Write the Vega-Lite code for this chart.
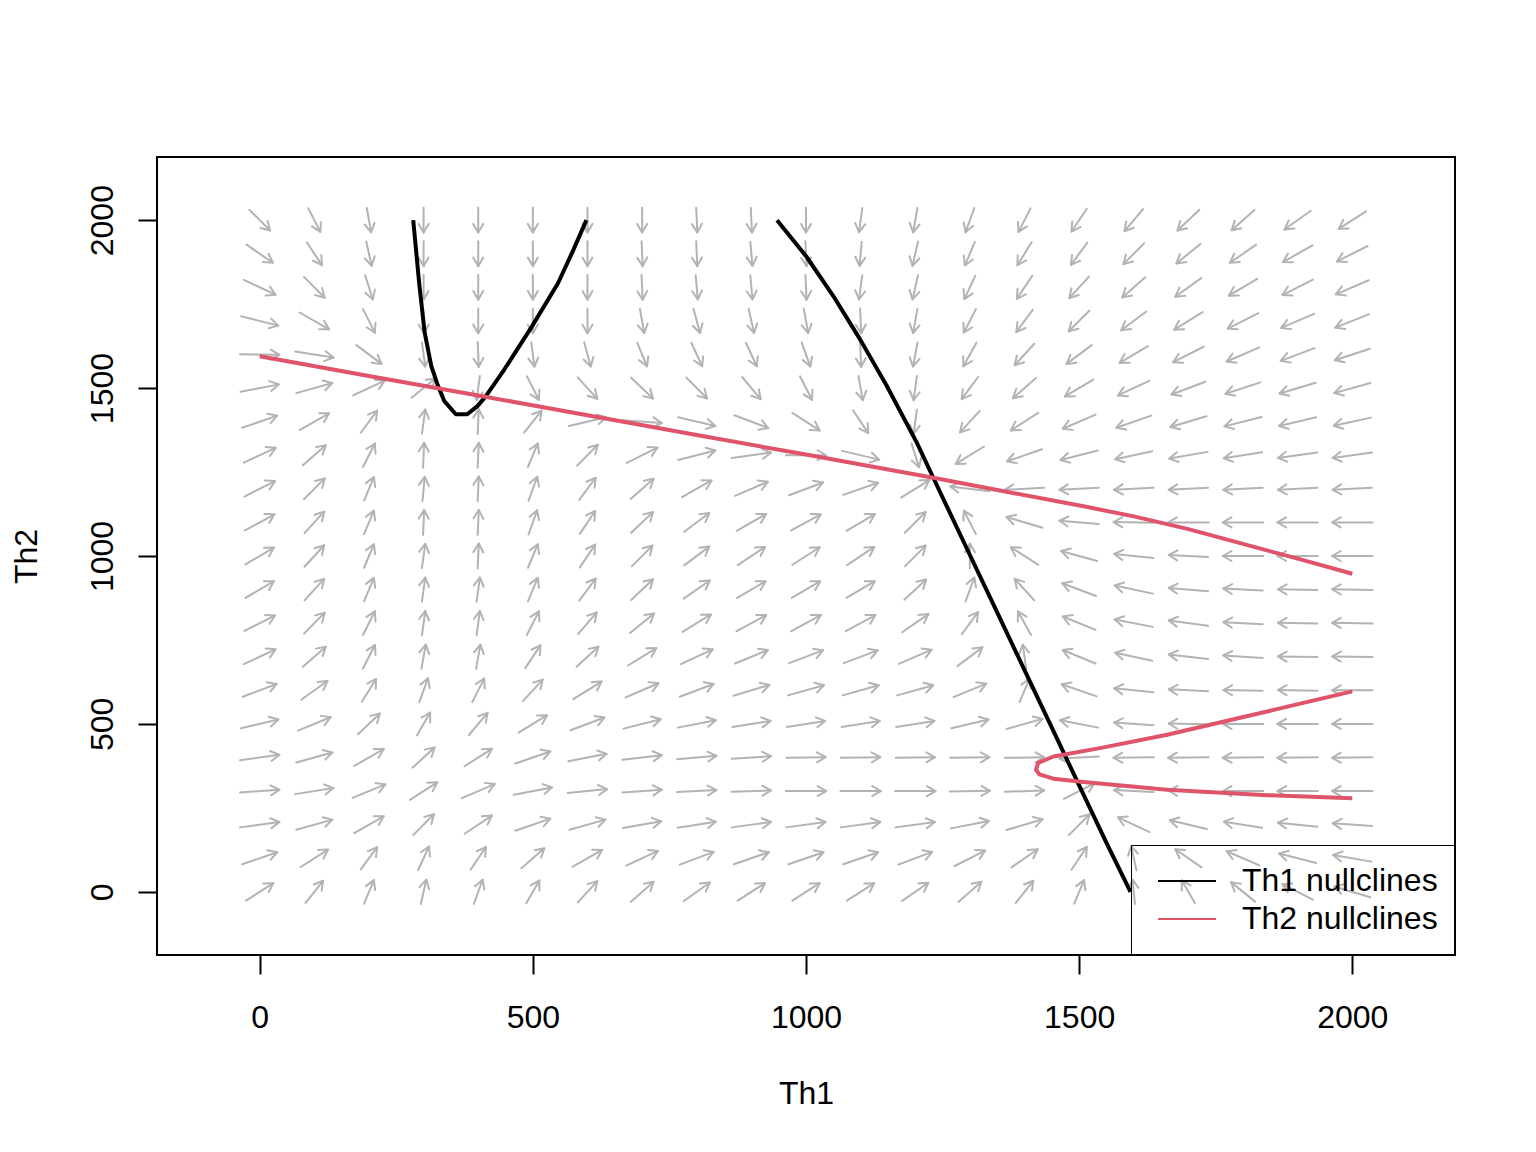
{
"$schema": "https://vega.github.io/schema/vega-lite/v6.json",
"width": 1298,
"height": 798,
"autosize": {"type": "none"},
"padding": {"left": 157, "top": 157, "right": 81, "bottom": 197},
"background": "white",
"config": {"font": "Liberation Sans", "view": {"stroke": "black", "strokeWidth": 2}},
"datasets": {
"field": [
{"x0":-19,"y0":2031,"x1":19,"y1":1969},{"x0":89,"y0":2035,"x1":111,"y1":1965},{"x0":196,"y0":2036,"x1":204,"y1":1964},{"x0":300,"y0":2037,"x1":300,"y1":1963},{"x0":400,"y0":2037,"x1":400,"y1":1963},{"x0":500,"y0":2037,"x1":500,"y1":1963},{"x0":600,"y0":2037,"x1":600,"y1":1963},{"x0":700,"y0":2037,"x1":700,"y1":1963},{"x0":799,"y0":2037,"x1":801,"y1":1963},{"x0":899,"y0":2037,"x1":901,"y1":1963},{"x0":1000,"y0":2037,"x1":1000,"y1":1963},{"x0":1103,"y0":2036,"x1":1097,"y1":1964},{"x0":1204,"y0":2036,"x1":1196,"y1":1964},{"x0":1308,"y0":2036,"x1":1292,"y1":1964},{"x0":1411,"y0":2035,"x1":1389,"y1":1965},{"x0":1514,"y0":2034,"x1":1486,"y1":1966},{"x0":1617,"y0":2033,"x1":1583,"y1":1967},{"x0":1720,"y0":2031,"x1":1680,"y1":1969},{"x0":1821,"y0":2030,"x1":1779,"y1":1970},{"x0":1924,"y0":2028,"x1":1876,"y1":1972},{"x0":2025,"y0":2026,"x1":1975,"y1":1974},
{"x0":-24,"y0":1927,"x1":24,"y1":1873},{"x0":86,"y0":1934,"x1":114,"y1":1866},{"x0":195,"y0":1936,"x1":205,"y1":1864},{"x0":300,"y0":1937,"x1":300,"y1":1863},{"x0":400,"y0":1937,"x1":400,"y1":1863},{"x0":500,"y0":1937,"x1":500,"y1":1863},{"x0":600,"y0":1937,"x1":600,"y1":1863},{"x0":699,"y0":1937,"x1":701,"y1":1863},{"x0":799,"y0":1937,"x1":801,"y1":1863},{"x0":898,"y0":1936,"x1":902,"y1":1864},{"x0":999,"y0":1937,"x1":1001,"y1":1863},{"x0":1102,"y0":1936,"x1":1098,"y1":1864},{"x0":1205,"y0":1936,"x1":1195,"y1":1864},{"x0":1309,"y0":1935,"x1":1291,"y1":1865},{"x0":1413,"y0":1934,"x1":1387,"y1":1866},{"x0":1515,"y0":1933,"x1":1485,"y1":1867},{"x0":1619,"y0":1931,"x1":1581,"y1":1869},{"x0":1722,"y0":1929,"x1":1678,"y1":1871},{"x0":1824,"y0":1927,"x1":1776,"y1":1873},{"x0":1927,"y0":1925,"x1":1873,"y1":1875},{"x0":2028,"y0":1923,"x1":1972,"y1":1877},
{"x0":-29,"y0":1822,"x1":29,"y1":1778},{"x0":81,"y0":1831,"x1":119,"y1":1769},{"x0":193,"y0":1836,"x1":207,"y1":1764},{"x0":300,"y0":1837,"x1":300,"y1":1763},{"x0":400,"y0":1837,"x1":400,"y1":1763},{"x0":500,"y0":1837,"x1":500,"y1":1763},{"x0":600,"y0":1837,"x1":600,"y1":1763},{"x0":699,"y0":1837,"x1":701,"y1":1763},{"x0":798,"y0":1836,"x1":802,"y1":1764},{"x0":898,"y0":1836,"x1":902,"y1":1764},{"x0":999,"y0":1837,"x1":1001,"y1":1763},{"x0":1103,"y0":1836,"x1":1097,"y1":1764},{"x0":1205,"y0":1836,"x1":1195,"y1":1764},{"x0":1310,"y0":1835,"x1":1290,"y1":1765},{"x0":1414,"y0":1834,"x1":1386,"y1":1766},{"x0":1518,"y0":1832,"x1":1482,"y1":1768},{"x0":1621,"y0":1830,"x1":1579,"y1":1770},{"x0":1724,"y0":1828,"x1":1676,"y1":1772},{"x0":1826,"y0":1825,"x1":1774,"y1":1775},{"x0":1928,"y0":1823,"x1":1872,"y1":1777},{"x0":2030,"y0":1821,"x1":1970,"y1":1779},
{"x0":-34,"y0":1714,"x1":34,"y1":1686},{"x0":73,"y0":1725,"x1":127,"y1":1675},{"x0":189,"y0":1735,"x1":211,"y1":1665},{"x0":299,"y0":1737,"x1":301,"y1":1663},{"x0":400,"y0":1737,"x1":400,"y1":1663},{"x0":500,"y0":1737,"x1":500,"y1":1663},{"x0":600,"y0":1737,"x1":600,"y1":1663},{"x0":696,"y0":1736,"x1":704,"y1":1664},{"x0":794,"y0":1736,"x1":806,"y1":1664},{"x0":895,"y0":1736,"x1":905,"y1":1664},{"x0":996,"y0":1736,"x1":1004,"y1":1664},{"x0":1099,"y0":1737,"x1":1101,"y1":1663},{"x0":1204,"y0":1736,"x1":1196,"y1":1664},{"x0":1311,"y0":1735,"x1":1289,"y1":1665},{"x0":1415,"y0":1733,"x1":1385,"y1":1667},{"x0":1519,"y0":1731,"x1":1481,"y1":1669},{"x0":1623,"y0":1728,"x1":1577,"y1":1672},{"x0":1726,"y0":1726,"x1":1674,"y1":1674},{"x0":1828,"y0":1723,"x1":1772,"y1":1677},{"x0":1930,"y0":1721,"x1":1870,"y1":1679},{"x0":2031,"y0":1720,"x1":1969,"y1":1680},
{"x0":-36,"y0":1601,"x1":36,"y1":1599},{"x0":65,"y0":1609,"x1":135,"y1":1591},{"x0":177,"y0":1628,"x1":223,"y1":1572},{"x0":297,"y0":1636,"x1":303,"y1":1564},{"x0":399,"y0":1637,"x1":401,"y1":1563},{"x0":497,"y0":1636,"x1":503,"y1":1564},{"x0":594,"y0":1636,"x1":606,"y1":1564},{"x0":691,"y0":1635,"x1":709,"y1":1565},{"x0":790,"y0":1635,"x1":810,"y1":1565},{"x0":890,"y0":1635,"x1":910,"y1":1565},{"x0":992,"y0":1636,"x1":1008,"y1":1564},{"x0":1099,"y0":1637,"x1":1101,"y1":1563},{"x0":1204,"y0":1636,"x1":1196,"y1":1564},{"x0":1312,"y0":1635,"x1":1288,"y1":1565},{"x0":1418,"y0":1632,"x1":1382,"y1":1568},{"x0":1523,"y0":1628,"x1":1477,"y1":1572},{"x0":1626,"y0":1625,"x1":1574,"y1":1575},{"x0":1728,"y0":1623,"x1":1672,"y1":1577},{"x0":1830,"y0":1621,"x1":1770,"y1":1579},{"x0":1931,"y0":1619,"x1":1869,"y1":1581},{"x0":2032,"y0":1617,"x1":1968,"y1":1583},
{"x0":-35,"y0":1489,"x1":35,"y1":1511},{"x0":67,"y0":1485,"x1":133,"y1":1515},{"x0":171,"y0":1478,"x1":229,"y1":1522},{"x0":278,"y0":1471,"x1":322,"y1":1529},{"x0":403,"y0":1536,"x1":397,"y1":1464},{"x0":489,"y0":1535,"x1":511,"y1":1465},{"x0":582,"y0":1532,"x1":618,"y1":1468},{"x0":680,"y0":1531,"x1":720,"y1":1469},{"x0":781,"y0":1531,"x1":819,"y1":1469},{"x0":883,"y0":1533,"x1":917,"y1":1467},{"x0":989,"y0":1535,"x1":1011,"y1":1465},{"x0":1096,"y0":1536,"x1":1104,"y1":1464},{"x0":1203,"y0":1536,"x1":1197,"y1":1464},{"x0":1315,"y0":1533,"x1":1285,"y1":1467},{"x0":1421,"y0":1530,"x1":1379,"y1":1470},{"x0":1526,"y0":1525,"x1":1474,"y1":1475},{"x0":1629,"y0":1522,"x1":1571,"y1":1478},{"x0":1731,"y0":1519,"x1":1669,"y1":1481},{"x0":1832,"y0":1517,"x1":1768,"y1":1483},{"x0":1933,"y0":1516,"x1":1867,"y1":1484},{"x0":2033,"y0":1515,"x1":1967,"y1":1485},
{"x0":-32,"y0":1382,"x1":32,"y1":1418},{"x0":73,"y0":1375,"x1":127,"y1":1425},{"x0":185,"y0":1367,"x1":215,"y1":1433},{"x0":297,"y0":1364,"x1":303,"y1":1436},{"x0":399,"y0":1363,"x1":401,"y1":1437},{"x0":484,"y0":1367,"x1":516,"y1":1433},{"x0":566,"y0":1387,"x1":634,"y1":1413},{"x0":664,"y0":1404,"x1":736,"y1":1396},{"x0":766,"y0":1413,"x1":834,"y1":1387},{"x0":869,"y0":1419,"x1":931,"y1":1381},{"x0":975,"y0":1426,"x1":1025,"y1":1374},{"x0":1086,"y0":1434,"x1":1114,"y1":1366},{"x0":1203,"y0":1436,"x1":1197,"y1":1364},{"x0":1318,"y0":1432,"x1":1282,"y1":1368},{"x0":1425,"y0":1426,"x1":1375,"y1":1374},{"x0":1530,"y0":1421,"x1":1470,"y1":1379},{"x0":1632,"y0":1418,"x1":1568,"y1":1382},{"x0":1733,"y0":1416,"x1":1667,"y1":1384},{"x0":1834,"y0":1414,"x1":1766,"y1":1386},{"x0":1934,"y0":1413,"x1":1866,"y1":1387},{"x0":2034,"y0":1412,"x1":1966,"y1":1388},
{"x0":-29,"y0":1278,"x1":29,"y1":1322},{"x0":79,"y0":1270,"x1":121,"y1":1330},{"x0":189,"y0":1265,"x1":211,"y1":1335},{"x0":299,"y0":1263,"x1":301,"y1":1337},{"x0":399,"y0":1263,"x1":401,"y1":1337},{"x0":491,"y0":1265,"x1":509,"y1":1335},{"x0":581,"y0":1269,"x1":619,"y1":1331},{"x0":672,"y0":1277,"x1":728,"y1":1323},{"x0":766,"y0":1286,"x1":834,"y1":1314},{"x0":864,"y0":1292,"x1":936,"y1":1308},{"x0":963,"y0":1300,"x1":1037,"y1":1300},{"x0":1066,"y0":1313,"x1":1134,"y1":1287},{"x0":1193,"y0":1336,"x1":1207,"y1":1264},{"x0":1326,"y0":1326,"x1":1274,"y1":1274},{"x0":1432,"y0":1318,"x1":1368,"y1":1282},{"x0":1534,"y0":1314,"x1":1466,"y1":1286},{"x0":1634,"y0":1312,"x1":1566,"y1":1288},{"x0":1735,"y0":1310,"x1":1665,"y1":1290},{"x0":1835,"y0":1309,"x1":1765,"y1":1291},{"x0":1936,"y0":1308,"x1":1864,"y1":1292},{"x0":2036,"y0":1308,"x1":1964,"y1":1292},
{"x0":-28,"y0":1177,"x1":28,"y1":1223},{"x0":81,"y0":1169,"x1":119,"y1":1231},{"x0":191,"y0":1165,"x1":209,"y1":1235},{"x0":298,"y0":1164,"x1":302,"y1":1236},{"x0":399,"y0":1163,"x1":401,"y1":1237},{"x0":492,"y0":1164,"x1":508,"y1":1236},{"x0":585,"y0":1167,"x1":615,"y1":1233},{"x0":679,"y0":1170,"x1":721,"y1":1230},{"x0":773,"y0":1175,"x1":827,"y1":1225},{"x0":870,"y0":1179,"x1":930,"y1":1221},{"x0":969,"y0":1181,"x1":1031,"y1":1219},{"x0":1068,"y0":1182,"x1":1132,"y1":1218},{"x0":1174,"y0":1174,"x1":1226,"y1":1226},{"x0":1336,"y0":1193,"x1":1264,"y1":1207},{"x0":1436,"y0":1203,"x1":1364,"y1":1197},{"x0":1536,"y0":1203,"x1":1464,"y1":1197},{"x0":1636,"y0":1203,"x1":1564,"y1":1197},{"x0":1736,"y0":1203,"x1":1664,"y1":1197},{"x0":1836,"y0":1203,"x1":1764,"y1":1197},{"x0":1936,"y0":1203,"x1":1864,"y1":1197},{"x0":2036,"y0":1203,"x1":1964,"y1":1197},
{"x0":-27,"y0":1076,"x1":27,"y1":1124},{"x0":82,"y0":1068,"x1":118,"y1":1132},{"x0":191,"y0":1065,"x1":209,"y1":1135},{"x0":299,"y0":1063,"x1":301,"y1":1137},{"x0":399,"y0":1063,"x1":401,"y1":1137},{"x0":492,"y0":1064,"x1":508,"y1":1136},{"x0":586,"y0":1066,"x1":614,"y1":1134},{"x0":680,"y0":1069,"x1":720,"y1":1131},{"x0":777,"y0":1072,"x1":823,"y1":1128},{"x0":873,"y0":1075,"x1":927,"y1":1125},{"x0":973,"y0":1076,"x1":1027,"y1":1124},{"x0":1074,"y0":1075,"x1":1126,"y1":1125},{"x0":1181,"y0":1069,"x1":1219,"y1":1131},{"x0":1311,"y0":1065,"x1":1289,"y1":1135},{"x0":1433,"y0":1084,"x1":1367,"y1":1116},{"x0":1536,"y0":1095,"x1":1464,"y1":1105},{"x0":1637,"y0":1099,"x1":1563,"y1":1101},{"x0":1737,"y0":1100,"x1":1663,"y1":1100},{"x0":1837,"y0":1100,"x1":1763,"y1":1100},{"x0":1937,"y0":1100,"x1":1863,"y1":1100},{"x0":2037,"y0":1100,"x1":1963,"y1":1100},
{"x0":-26,"y0":975,"x1":26,"y1":1025},{"x0":82,"y0":968,"x1":118,"y1":1032},{"x0":191,"y0":965,"x1":209,"y1":1035},{"x0":297,"y0":964,"x1":303,"y1":1036},{"x0":399,"y0":963,"x1":401,"y1":1037},{"x0":491,"y0":965,"x1":509,"y1":1035},{"x0":586,"y0":966,"x1":614,"y1":1034},{"x0":681,"y0":969,"x1":719,"y1":1031},{"x0":777,"y0":972,"x1":823,"y1":1028},{"x0":875,"y0":973,"x1":925,"y1":1027},{"x0":975,"y0":974,"x1":1025,"y1":1026},{"x0":1075,"y0":973,"x1":1125,"y1":1027},{"x0":1181,"y0":969,"x1":1219,"y1":1031},{"x0":1300,"y0":963,"x1":1300,"y1":1037},{"x0":1425,"y0":974,"x1":1375,"y1":1026},{"x0":1533,"y0":985,"x1":1467,"y1":1015},{"x0":1636,"y0":994,"x1":1564,"y1":1006},{"x0":1736,"y0":997,"x1":1664,"y1":1003},{"x0":1837,"y0":1000,"x1":1763,"y1":1000},{"x0":1937,"y0":1000,"x1":1863,"y1":1000},{"x0":2037,"y0":1000,"x1":1963,"y1":1000},
{"x0":-26,"y0":875,"x1":26,"y1":925},{"x0":82,"y0":868,"x1":118,"y1":932},{"x0":191,"y0":865,"x1":209,"y1":935},{"x0":297,"y0":864,"x1":303,"y1":936},{"x0":397,"y0":864,"x1":403,"y1":936},{"x0":491,"y0":865,"x1":509,"y1":935},{"x0":585,"y0":867,"x1":615,"y1":933},{"x0":680,"y0":869,"x1":720,"y1":931},{"x0":776,"y0":873,"x1":824,"y1":927},{"x0":874,"y0":875,"x1":926,"y1":925},{"x0":974,"y0":875,"x1":1026,"y1":925},{"x0":1074,"y0":875,"x1":1126,"y1":925},{"x0":1180,"y0":870,"x1":1220,"y1":930},{"x0":1292,"y0":864,"x1":1308,"y1":936},{"x0":1418,"y0":868,"x1":1382,"y1":932},{"x0":1531,"y0":881,"x1":1469,"y1":919},{"x0":1635,"y0":888,"x1":1565,"y1":912},{"x0":1736,"y0":895,"x1":1664,"y1":905},{"x0":1836,"y0":897,"x1":1764,"y1":903},{"x0":1936,"y0":899,"x1":1864,"y1":901},{"x0":2037,"y0":899,"x1":1963,"y1":901},
{"x0":-28,"y0":777,"x1":28,"y1":823},{"x0":81,"y0":769,"x1":119,"y1":831},{"x0":189,"y0":765,"x1":211,"y1":835},{"x0":297,"y0":764,"x1":303,"y1":836},{"x0":397,"y0":764,"x1":403,"y1":836},{"x0":489,"y0":765,"x1":511,"y1":835},{"x0":583,"y0":768,"x1":617,"y1":832},{"x0":678,"y0":771,"x1":722,"y1":829},{"x0":774,"y0":774,"x1":826,"y1":826},{"x0":873,"y0":776,"x1":927,"y1":824},{"x0":973,"y0":776,"x1":1027,"y1":824},{"x0":1073,"y0":776,"x1":1127,"y1":824},{"x0":1176,"y0":773,"x1":1224,"y1":827},{"x0":1285,"y0":767,"x1":1315,"y1":833},{"x0":1412,"y0":765,"x1":1388,"y1":835},{"x0":1530,"y0":780,"x1":1470,"y1":820},{"x0":1635,"y0":789,"x1":1565,"y1":811},{"x0":1736,"y0":792,"x1":1664,"y1":808},{"x0":1836,"y0":797,"x1":1764,"y1":803},{"x0":1936,"y0":799,"x1":1864,"y1":801},{"x0":2037,"y0":799,"x1":1963,"y1":801},
{"x0":-29,"y0":678,"x1":29,"y1":722},{"x0":79,"y0":670,"x1":121,"y1":730},{"x0":189,"y0":665,"x1":211,"y1":735},{"x0":296,"y0":664,"x1":304,"y1":736},{"x0":396,"y0":664,"x1":404,"y1":736},{"x0":486,"y0":666,"x1":514,"y1":734},{"x0":580,"y0":670,"x1":620,"y1":730},{"x0":674,"y0":674,"x1":726,"y1":726},{"x0":771,"y0":678,"x1":829,"y1":722},{"x0":870,"y0":680,"x1":930,"y1":720},{"x0":969,"y0":681,"x1":1031,"y1":719},{"x0":1069,"y0":681,"x1":1131,"y1":719},{"x0":1170,"y0":679,"x1":1230,"y1":721},{"x0":1277,"y0":672,"x1":1323,"y1":728},{"x0":1403,"y0":664,"x1":1397,"y1":736},{"x0":1530,"y0":680,"x1":1470,"y1":720},{"x0":1634,"y0":688,"x1":1566,"y1":712},{"x0":1736,"y0":693,"x1":1664,"y1":707},{"x0":1836,"y0":696,"x1":1764,"y1":704},{"x0":1936,"y0":699,"x1":1864,"y1":701},{"x0":2037,"y0":699,"x1":1963,"y1":701},
{"x0":-31,"y0":581,"x1":31,"y1":619},{"x0":76,"y0":572,"x1":124,"y1":628},{"x0":187,"y0":566,"x1":213,"y1":634},{"x0":292,"y0":564,"x1":308,"y1":636},{"x0":389,"y0":565,"x1":411,"y1":635},{"x0":482,"y0":568,"x1":518,"y1":632},{"x0":574,"y0":574,"x1":626,"y1":626},{"x0":670,"y0":579,"x1":730,"y1":621},{"x0":769,"y0":581,"x1":831,"y1":619},{"x0":867,"y0":584,"x1":933,"y1":616},{"x0":967,"y0":585,"x1":1033,"y1":615},{"x0":1067,"y0":585,"x1":1133,"y1":615},{"x0":1167,"y0":585,"x1":1233,"y1":615},{"x0":1270,"y0":580,"x1":1330,"y1":620},{"x0":1391,"y0":565,"x1":1409,"y1":635},{"x0":1532,"y0":582,"x1":1468,"y1":618},{"x0":1636,"y0":594,"x1":1564,"y1":606},{"x0":1736,"y0":597,"x1":1664,"y1":603},{"x0":1836,"y0":599,"x1":1764,"y1":601},{"x0":1936,"y0":599,"x1":1864,"y1":601},{"x0":2037,"y0":600,"x1":1963,"y1":600},
{"x0":-34,"y0":487,"x1":34,"y1":513},{"x0":70,"y0":480,"x1":130,"y1":520},{"x0":180,"y0":469,"x1":220,"y1":531},{"x0":288,"y0":466,"x1":312,"y1":534},{"x0":383,"y0":467,"x1":417,"y1":533},{"x0":474,"y0":474,"x1":526,"y1":526},{"x0":569,"y0":481,"x1":631,"y1":519},{"x0":666,"y0":486,"x1":734,"y1":514},{"x0":765,"y0":489,"x1":835,"y1":511},{"x0":865,"y0":491,"x1":935,"y1":509},{"x0":965,"y0":491,"x1":1035,"y1":509},{"x0":1065,"y0":491,"x1":1135,"y1":509},{"x0":1165,"y0":491,"x1":1235,"y1":509},{"x0":1266,"y0":487,"x1":1334,"y1":513},{"x0":1367,"y0":485,"x1":1433,"y1":515},{"x0":1535,"y0":489,"x1":1465,"y1":511},{"x0":1636,"y0":496,"x1":1564,"y1":504},{"x0":1736,"y0":499,"x1":1664,"y1":501},{"x0":1837,"y0":500,"x1":1763,"y1":500},{"x0":1937,"y0":500,"x1":1863,"y1":500},{"x0":2037,"y0":500,"x1":1963,"y1":500},
{"x0":-36,"y0":392,"x1":36,"y1":408},{"x0":67,"y0":385,"x1":133,"y1":415},{"x0":173,"y0":375,"x1":227,"y1":425},{"x0":280,"y0":370,"x1":320,"y1":430},{"x0":375,"y0":374,"x1":425,"y1":426},{"x0":468,"y0":382,"x1":532,"y1":418},{"x0":565,"y0":389,"x1":635,"y1":411},{"x0":664,"y0":393,"x1":736,"y1":407},{"x0":764,"y0":395,"x1":836,"y1":405},{"x0":864,"y0":396,"x1":936,"y1":404},{"x0":964,"y0":399,"x1":1036,"y1":401},{"x0":1064,"y0":399,"x1":1136,"y1":401},{"x0":1164,"y0":399,"x1":1236,"y1":401},{"x0":1264,"y0":399,"x1":1336,"y1":401},{"x0":1364,"y0":399,"x1":1436,"y1":401},{"x0":1536,"y0":403,"x1":1464,"y1":397},{"x0":1637,"y0":401,"x1":1563,"y1":399},{"x0":1737,"y0":401,"x1":1663,"y1":399},{"x0":1837,"y0":401,"x1":1763,"y1":399},{"x0":1937,"y0":401,"x1":1863,"y1":399},{"x0":2037,"y0":401,"x1":1963,"y1":399},
{"x0":-36,"y0":296,"x1":36,"y1":304},{"x0":65,"y0":291,"x1":135,"y1":309},{"x0":170,"y0":280,"x1":230,"y1":320},{"x0":275,"y0":274,"x1":325,"y1":326},{"x0":370,"y0":279,"x1":430,"y1":321},{"x0":465,"y0":289,"x1":535,"y1":311},{"x0":564,"y0":294,"x1":636,"y1":306},{"x0":664,"y0":296,"x1":736,"y1":304},{"x0":764,"y0":297,"x1":836,"y1":303},{"x0":864,"y0":298,"x1":936,"y1":302},{"x0":963,"y0":300,"x1":1037,"y1":300},{"x0":1063,"y0":300,"x1":1137,"y1":300},{"x0":1163,"y0":300,"x1":1237,"y1":300},{"x0":1263,"y0":299,"x1":1337,"y1":301},{"x0":1364,"y0":298,"x1":1436,"y1":302},{"x0":1472,"y0":277,"x1":1528,"y1":323},{"x0":1636,"y0":297,"x1":1564,"y1":303},{"x0":1736,"y0":299,"x1":1664,"y1":301},{"x0":1837,"y0":300,"x1":1763,"y1":300},{"x0":1937,"y0":300,"x1":1863,"y1":300},{"x0":2037,"y0":300,"x1":1963,"y1":300},
{"x0":-36,"y0":192,"x1":36,"y1":208},{"x0":67,"y0":185,"x1":133,"y1":215},{"x0":173,"y0":175,"x1":227,"y1":225},{"x0":281,"y0":169,"x1":319,"y1":231},{"x0":375,"y0":173,"x1":425,"y1":227},{"x0":468,"y0":182,"x1":532,"y1":218},{"x0":567,"y0":185,"x1":633,"y1":215},{"x0":665,"y0":190,"x1":735,"y1":210},{"x0":765,"y0":191,"x1":835,"y1":209},{"x0":864,"y0":192,"x1":936,"y1":208},{"x0":964,"y0":192,"x1":1036,"y1":208},{"x0":1064,"y0":192,"x1":1136,"y1":208},{"x0":1164,"y0":192,"x1":1236,"y1":208},{"x0":1265,"y0":189,"x1":1335,"y1":211},{"x0":1367,"y0":184,"x1":1433,"y1":216},{"x0":1481,"y0":169,"x1":1519,"y1":231},{"x0":1629,"y0":178,"x1":1571,"y1":222},{"x0":1734,"y0":187,"x1":1666,"y1":213},{"x0":1835,"y0":191,"x1":1765,"y1":209},{"x0":1936,"y0":194,"x1":1864,"y1":206},{"x0":2036,"y0":196,"x1":1964,"y1":204},
{"x0":-32,"y0":82,"x1":32,"y1":118},{"x0":75,"y0":74,"x1":125,"y1":126},{"x0":185,"y0":67,"x1":215,"y1":133},{"x0":290,"y0":65,"x1":310,"y1":135},{"x0":386,"y0":66,"x1":414,"y1":134},{"x0":479,"y0":70,"x1":521,"y1":130},{"x0":573,"y0":75,"x1":627,"y1":125},{"x0":671,"y0":78,"x1":729,"y1":122},{"x0":769,"y0":81,"x1":831,"y1":119},{"x0":868,"y0":82,"x1":932,"y1":118},{"x0":968,"y0":82,"x1":1032,"y1":118},{"x0":1068,"y0":82,"x1":1132,"y1":118},{"x0":1169,"y0":81,"x1":1231,"y1":119},{"x0":1272,"y0":77,"x1":1328,"y1":123},{"x0":1376,"y0":73,"x1":1424,"y1":127},{"x0":1486,"y0":66,"x1":1514,"y1":134},{"x0":1605,"y0":64,"x1":1595,"y1":136},{"x0":1724,"y0":73,"x1":1676,"y1":127},{"x0":1830,"y0":79,"x1":1770,"y1":121},{"x0":1934,"y0":86,"x1":1866,"y1":114},{"x0":2035,"y0":90,"x1":1965,"y1":110},
{"x0":-25,"y0":-26,"x1":25,"y1":26},{"x0":84,"y0":-33,"x1":116,"y1":33},{"x0":191,"y0":-35,"x1":209,"y1":35},{"x0":295,"y0":-36,"x1":305,"y1":36},{"x0":392,"y0":-36,"x1":408,"y1":36},{"x0":488,"y0":-34,"x1":512,"y1":34},{"x0":582,"y0":-32,"x1":618,"y1":32},{"x0":679,"y0":-30,"x1":721,"y1":30},{"x0":776,"y0":-28,"x1":824,"y1":28},{"x0":875,"y0":-26,"x1":925,"y1":26},{"x0":975,"y0":-26,"x1":1025,"y1":26},{"x0":1075,"y0":-26,"x1":1125,"y1":26},{"x0":1176,"y0":-27,"x1":1224,"y1":27},{"x0":1279,"y0":-30,"x1":1321,"y1":30},{"x0":1384,"y0":-33,"x1":1416,"y1":33},{"x0":1491,"y0":-35,"x1":1509,"y1":35},{"x0":1602,"y0":-36,"x1":1598,"y1":36},{"x0":1712,"y0":-34,"x1":1688,"y1":34},{"x0":1822,"y0":-29,"x1":1778,"y1":29},{"x0":1928,"y0":-23,"x1":1872,"y1":23},{"x0":2033,"y0":-16,"x1":1967,"y1":16}
],
"nullclines": [
{"series":"Th1 nullclines","piece":"a","i":0,"x":281,"y":2000},{"series":"Th1 nullclines","piece":"a","i":1,"x":292,"y":1811},{"series":"Th1 nullclines","piece":"a","i":2,"x":302,"y":1665},{"series":"Th1 nullclines","piece":"a","i":3,"x":314,"y":1566},{"series":"Th1 nullclines","piece":"a","i":4,"x":326,"y":1508},{"series":"Th1 nullclines","piece":"a","i":5,"x":338,"y":1461},{"series":"Th1 nullclines","piece":"a","i":6,"x":359,"y":1422},{"series":"Th1 nullclines","piece":"a","i":7,"x":380,"y":1422},{"series":"Th1 nullclines","piece":"a","i":8,"x":399,"y":1447},{"series":"Th1 nullclines","piece":"a","i":9,"x":414,"y":1476},{"series":"Th1 nullclines","piece":"a","i":10,"x":448,"y":1556},{"series":"Th1 nullclines","piece":"a","i":11,"x":497,"y":1680},{"series":"Th1 nullclines","piece":"a","i":12,"x":546,"y":1812},{"series":"Th1 nullclines","piece":"a","i":13,"x":573,"y":1907},{"series":"Th1 nullclines","piece":"a","i":14,"x":598,"y":2000},
{"series":"Th1 nullclines","piece":"b","i":0,"x":947,"y":2000},{"series":"Th1 nullclines","piece":"b","i":1,"x":1001,"y":1891},{"series":"Th1 nullclines","piece":"b","i":2,"x":1050,"y":1774},{"series":"Th1 nullclines","piece":"b","i":3,"x":1099,"y":1645},{"series":"Th1 nullclines","piece":"b","i":4,"x":1148,"y":1506},{"series":"Th1 nullclines","piece":"b","i":5,"x":1203,"y":1337},{"series":"Th1 nullclines","piece":"b","i":6,"x":1233,"y":1233},{"series":"Th1 nullclines","piece":"b","i":7,"x":1300,"y":1003},{"series":"Th1 nullclines","piece":"b","i":8,"x":1350,"y":832},{"series":"Th1 nullclines","piece":"b","i":9,"x":1400,"y":660},{"series":"Th1 nullclines","piece":"b","i":10,"x":1450,"y":489},{"series":"Th1 nullclines","piece":"b","i":11,"x":1500,"y":317},{"series":"Th1 nullclines","piece":"b","i":12,"x":1550,"y":146},{"series":"Th1 nullclines","piece":"b","i":13,"x":1594,"y":0},
{"series":"Th2 nullclines","piece":"c","i":0,"x":0,"y":1595},{"series":"Th2 nullclines","piece":"c","i":1,"x":200,"y":1536},{"series":"Th2 nullclines","piece":"c","i":2,"x":400,"y":1478},{"series":"Th2 nullclines","piece":"c","i":3,"x":600,"y":1419},{"series":"Th2 nullclines","piece":"c","i":4,"x":800,"y":1360},{"series":"Th2 nullclines","piece":"c","i":5,"x":1000,"y":1302},{"series":"Th2 nullclines","piece":"c","i":6,"x":1233,"y":1233},{"series":"Th2 nullclines","piece":"c","i":7,"x":1355,"y":1195},{"series":"Th2 nullclines","piece":"c","i":8,"x":1508,"y":1148},{"series":"Th2 nullclines","piece":"c","i":9,"x":1600,"y":1118},{"series":"Th2 nullclines","piece":"c","i":10,"x":1700,"y":1080},{"series":"Th2 nullclines","piece":"c","i":11,"x":1800,"y":1036},{"series":"Th2 nullclines","piece":"c","i":12,"x":1900,"y":992},{"series":"Th2 nullclines","piece":"c","i":13,"x":2000,"y":947},
{"series":"Th2 nullclines","piece":"d","i":0,"x":2000,"y":597},{"series":"Th2 nullclines","piece":"d","i":1,"x":1844,"y":537},{"series":"Th2 nullclines","piece":"d","i":2,"x":1661,"y":468},{"series":"Th2 nullclines","piece":"d","i":3,"x":1538,"y":428},{"series":"Th2 nullclines","piece":"d","i":4,"x":1453,"y":403},{"series":"Th2 nullclines","piece":"d","i":5,"x":1425,"y":384},{"series":"Th2 nullclines","piece":"d","i":6,"x":1421,"y":364},{"series":"Th2 nullclines","piece":"d","i":7,"x":1427,"y":350},{"series":"Th2 nullclines","piece":"d","i":8,"x":1453,"y":337},{"series":"Th2 nullclines","piece":"d","i":9,"x":1508,"y":327},{"series":"Th2 nullclines","piece":"d","i":10,"x":1661,"y":304},{"series":"Th2 nullclines","piece":"d","i":11,"x":1844,"y":288},{"series":"Th2 nullclines","piece":"d","i":12,"x":2000,"y":279}
]
},
"layer": [
{
"data": {"name": "field"},
"mark": {"type": "rule", "color": "#B3B3B3", "strokeWidth": 2, "strokeCap": "round"},
"encoding": {
"x": {"field": "x0", "type": "quantitative", "scale": {"domain": [-188, 2188], "nice": false, "zero": false},
"axis": {"title": "Th1", "values": [0, 500, 1000, 1500, 2000], "format": "d", "grid": false, "domain": false, "tickColor": "black", "tickWidth": 2, "tickSize": 19, "labelFontSize": 32, "labelColor": "black", "labelPadding": 28, "labelFlush": false, "labelOverlap": false, "titleFontSize": 32, "titleFontWeight": "normal", "titleColor": "black", "titleY": 148, "titleBaseline": "alphabetic"}},
"y": {"field": "y0", "type": "quantitative", "scale": {"domain": [-188, 2188], "nice": false, "zero": false},
"axis": {"title": "Th2", "values": [0, 500, 1000, 1500, 2000], "format": "d", "grid": false, "domain": false, "tickColor": "black", "tickWidth": 2, "tickSize": 19, "labelFontSize": 32, "labelColor": "black", "labelAngle": 270, "labelAlign": "center", "labelBaseline": "bottom", "labelPadding": 19, "labelFlush": false, "labelOverlap": false, "titleFontSize": 32, "titleFontWeight": "normal", "titleColor": "black", "titleAngle": 270, "titleX": -121, "titleBaseline": "alphabetic", "titleAlign": "center"}},
"x2": {"field": "x1"},
"y2": {"field": "y1"}
}
},
{
"data": {"name": "field"},
"transform": [{"calculate": "atan2(-(datum.y1 - datum.y0) * 0.33586, (datum.x1 - datum.x0) * 0.5463) * 180 / PI", "as": "ang"}],
"mark": {"type": "point", "shape": "M-1,-0.577L0,0L-1,0.577", "size": 300, "filled": false, "stroke": "#B3B3B3", "strokeWidth": 2, "opacity": 1, "strokeCap": "round", "strokeJoin": "round"},
"encoding": {
"x": {"field": "x1", "type": "quantitative"},
"y": {"field": "y1", "type": "quantitative"},
"angle": {"field": "ang", "type": "quantitative", "scale": null}
}
},
{
"data": {"name": "nullclines"},
"mark": {"type": "line", "strokeWidth": 4, "strokeJoin": "round"},
"encoding": {
"x": {"field": "x", "type": "quantitative"},
"y": {"field": "y", "type": "quantitative"},
"detail": {"field": "piece"},
"order": {"field": "i", "type": "quantitative"},
"color": {"field": "series", "type": "nominal",
"scale": {"domain": ["Th1 nullclines", "Th2 nullclines"], "range": ["black", "#DF536B"]},
"legend": {"title": null, "orient": "bottom-right", "offset": 0, "padding": 17, "symbolOffset": 9, "symbolType": "stroke", "symbolSize": 3364, "symbolStrokeWidth": 2, "labelFontSize": 32, "labelOffset": 25, "labelLimit": 400, "labelColor": "black", "strokeColor": "black", "rowPadding": 0, "clipHeight": 38}}
}
}
]
}
